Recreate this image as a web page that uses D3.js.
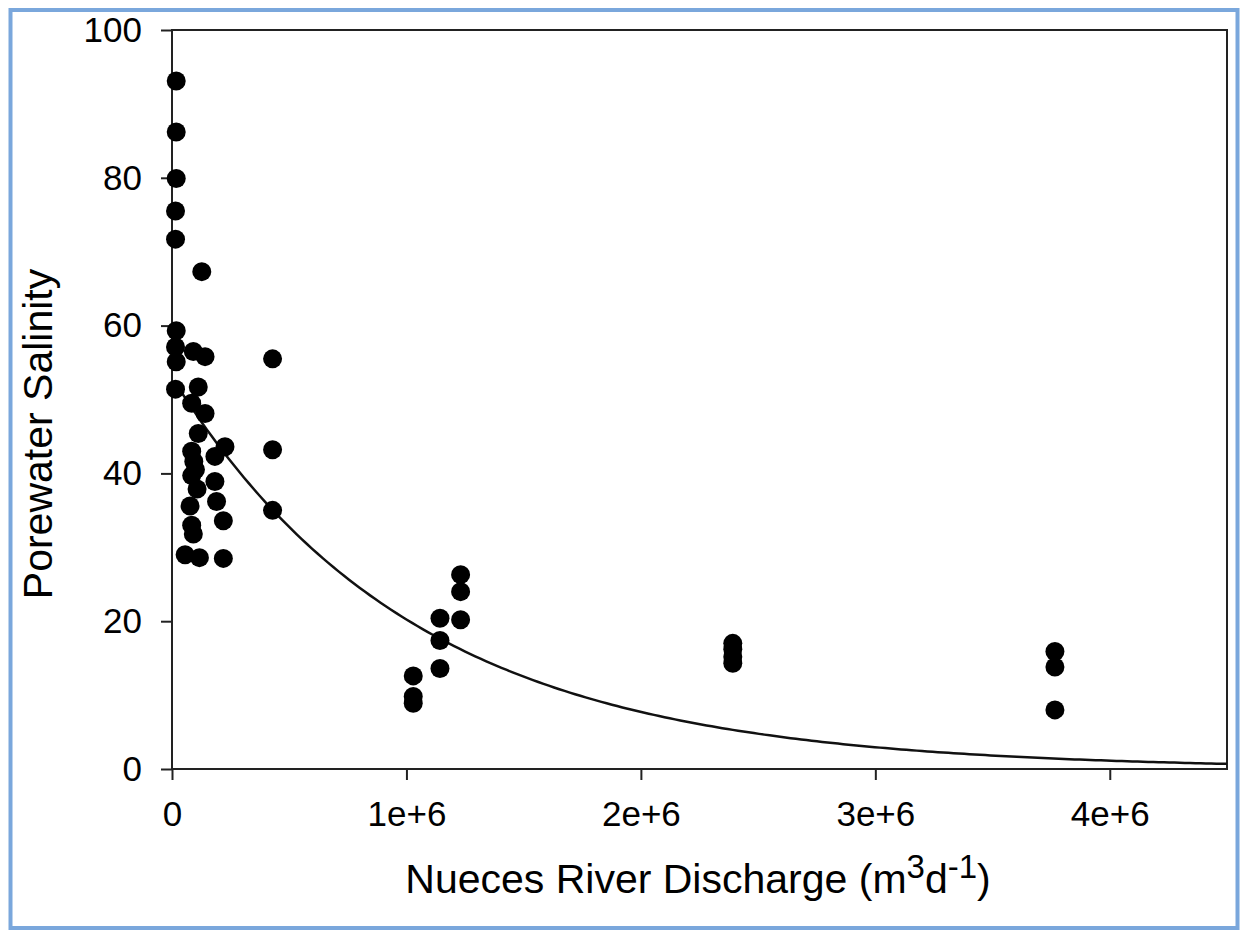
<!DOCTYPE html>
<html>
<head>
<meta charset="utf-8">
<script src="https://cdn.jsdelivr.net/npm/d3@7"></script>
<style>
  body { margin: 0; background: #fff; }
  text { font-family: "Liberation Sans", Arial, sans-serif; fill: #000; }
</style>
</head>
<body>
<div id="chart"></div>
<script>
// discharge (m3/d) and porewater salinity
const discharge = [
  18000, 18000, 18000, 15000, 15000, 18000, 15000, 18000, 15000,
  127000, 91000, 141000, 112000, 84000, 141000, 112000, 84000, 226000,
  183000, 93000, 84000, 183000, 107000, 190000, 77000, 219000, 84000,
  91000, 56000, 117000, 219000, 100000,
  429000, 429000, 429000,
  1029000, 1029000, 1029000,
  1143000, 1143000, 1143000,
  1231000, 1231000, 1231000,
  2392000, 2392000, 2392000, 2392000,
  3766000, 3766000, 3766000
];
const salinity = [
  93.1, 86.2, 79.9, 75.5, 71.7, 59.3, 57.1, 55.1, 51.4,
  67.3, 56.5, 55.8, 51.7, 49.5, 48.1, 45.4, 43.0, 43.6,
  42.3, 41.6, 39.7, 38.9, 37.9, 36.2, 35.6, 33.6, 33.0,
  31.8, 29.0, 28.6, 28.5, 40.5,
  55.5, 43.2, 35.0,
  12.6, 9.8, 8.9,
  20.4, 17.4, 13.6,
  26.3, 24.0, 20.2,
  17.0, 16.2, 15.2, 14.3,
  15.9, 13.8, 8.0
];
const xTicks = [0, 1e6, 2e6, 3e6, 4e6];
const xTickLabels = ["0", "1e+6", "2e+6", "3e+6", "4e+6"];
const yTicks = [0, 20, 40, 60, 80, 100];

// exponential fit: S = a * exp(-b * Q)
const fitA = 53, fitB = 0.963e-6;
const fitStart = 15000, fitEnd = 4.5e6;

const W = 1241, H = 930;
const margin = {top: 30, right: 14, bottom: 161, left: 172};
const width = W - margin.left - margin.right,
      height = H - margin.top - margin.bottom;

const root = d3.select("#chart").append("svg")
    .attr("width", W)
    .attr("height", H);

// window frame
root.append("rect")
    .attr("x", 10.5).attr("y", 10)
    .attr("width", 1227).attr("height", 918)
    .attr("fill", "none")
    .attr("stroke", "#7aa7dc")
    .attr("stroke-width", 4);

const svg = root.append("g")
    .attr("transform", `translate(${margin.left},${margin.top})`);

const x = d3.scaleLinear().domain([0, 4.5e6]).range([0, width]);
const y = d3.scaleLinear().domain([0, 100]).range([height, 0]);

// axes
const xAxis = svg.append("g")
    .attr("transform", `translate(0,${height})`)
    .call(d3.axisBottom(x).tickValues(xTicks)
      .tickFormat((d, i) => xTickLabels[i]).tickSize(11).tickPadding(21));
const yAxis = svg.append("g")
    .call(d3.axisLeft(y).tickValues(yTicks).tickSize(11).tickPadding(19));

[xAxis, yAxis].forEach(a => {
  a.select(".domain").remove();
  a.selectAll("line").attr("stroke", "#222").attr("stroke-width", 2);
  a.selectAll("text").attr("font-size", 35).attr("fill", "#000")
    .style("font-family", '"Liberation Sans", Arial, sans-serif');
});

// plot box
svg.append("rect")
    .attr("width", width).attr("height", height)
    .attr("fill", "none")
    .attr("stroke", "#222")
    .attr("stroke-width", 2);

// fitted curve
const fitPts = d3.range(0, 201).map(i => {
  const q = fitStart + (fitEnd - fitStart) * i / 200;
  return [q, fitA * Math.exp(-fitB * q)];
});
svg.append("path")
    .datum(fitPts)
    .attr("fill", "none")
    .attr("stroke", "#111")
    .attr("stroke-width", 2.5)
    .attr("d", d3.line().x(d => x(d[0])).y(d => y(d[1])));

// points
svg.selectAll(".pt")
    .data(discharge.map((q, i) => [q, salinity[i]]))
  .enter().append("circle")
    .attr("class", "pt")
    .attr("cx", d => x(d[0]))
    .attr("cy", d => y(d[1]))
    .attr("r", 9.5)
    .attr("fill", "#000");

// axis titles
root.append("text")
    .attr("transform", "translate(52,434) rotate(-90)")
    .attr("text-anchor", "middle")
    .attr("font-size", 41)
    .text("Porewater Salinity");

const xt = root.append("text")
    .attr("x", 698).attr("y", 893)
    .attr("text-anchor", "middle")
    .attr("font-size", 41);
xt.append("tspan").text("Nueces River Discharge (m");
xt.append("tspan").attr("font-size", 33).attr("dy", -15).text("3");
xt.append("tspan").attr("dy", 15).text("d");
xt.append("tspan").attr("font-size", 33).attr("dy", -15).text("-1");
xt.append("tspan").attr("dy", 15).text(")");
</script>
</body>
</html>
